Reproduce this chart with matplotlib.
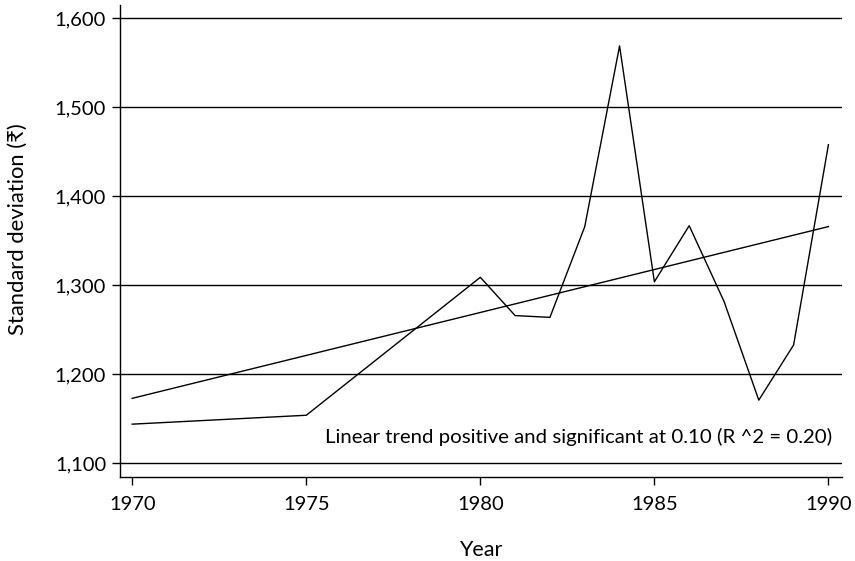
import matplotlib
matplotlib.use("Agg")
import matplotlib.pyplot as plt
from matplotlib.ticker import FuncFormatter

plt.rcParams['font.family'] = ['Lato', 'DejaVu Sans']

years = [1970, 1975, 1980, 1981, 1982, 1983, 1984, 1985, 1986, 1987, 1988, 1989, 1990]
std_dev = [1144, 1154, 1309, 1266, 1264, 1366, 1569, 1304, 1367, 1282, 1171, 1233, 1458]
trend_years = [1970, 1990]
trend_vals = [1173, 1366]
x_ticks = [1970, 1975, 1980, 1985, 1990]
y_ticks = [1100, 1200, 1300, 1400, 1500, 1600]
note = "Linear trend positive and significant at 0.10 (R ^2 = 0.20)"

fig = plt.figure(figsize=(8.55, 5.61), dpi=100)
ax = fig.add_axes([0.1404, 0.1497, 0.8444, 0.8414])

for y in y_ticks:
    ax.axhline(y, color='black', linewidth=1.0, zorder=1)

ax.plot(years, std_dev, color='black', linewidth=1.0, zorder=3)
ax.plot(trend_years, trend_vals, color='black', linewidth=1.0, zorder=3)

ax.set_xlim(1969.65, 1990.39)
ax.set_ylim(1084.6, 1615)
ax.set_xticks(x_ticks)
ax.set_yticks(y_ticks)
ax.yaxis.set_major_formatter(FuncFormatter(lambda v, p: f"{int(v):,}"))

for s in ['top', 'right']:
    ax.spines[s].set_visible(False)
for s in ['left', 'bottom']:
    ax.spines[s].set_linewidth(1.0)

ax.tick_params(axis='both', direction='out', length=6, width=1.0, labelsize=14.5, colors='black')
ax.tick_params(axis='x', pad=8)
ax.tick_params(axis='y', pad=4)

ax.set_xlabel("Year", fontsize=15.5, labelpad=19)
ax.set_ylabel("Standard deviation (₹)", fontsize=15.8)
ax.yaxis.set_label_coords(-0.128, 0.525)

ax.text(1990.1, 1129.5, note, ha='right', va='center', fontsize=14.7)

fig.savefig("out.png", dpi=100)
